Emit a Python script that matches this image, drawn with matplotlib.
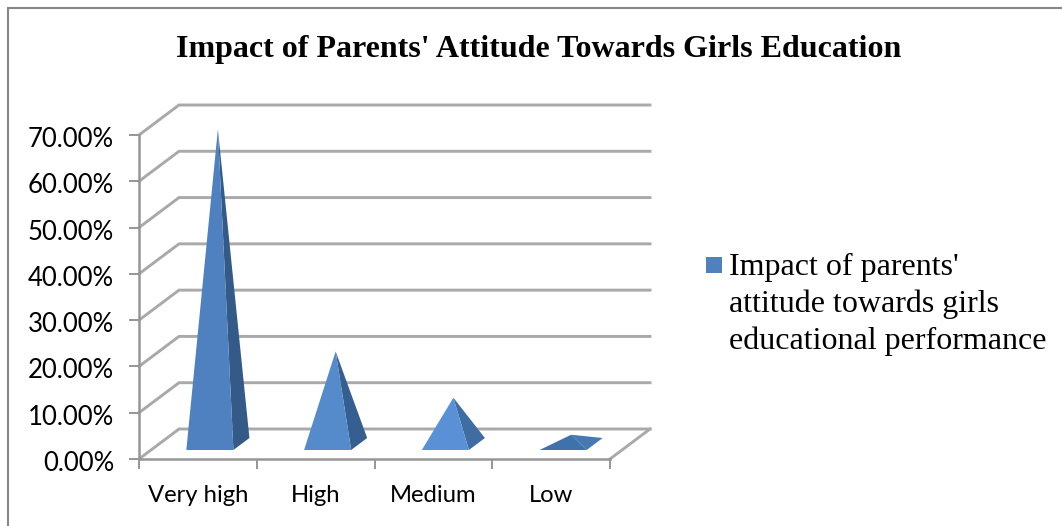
import matplotlib
matplotlib.use("Agg")
import matplotlib.pyplot as plt
from matplotlib.lines import Line2D
from matplotlib.patches import Polygon, Rectangle
from matplotlib.transforms import ScaledTranslation

categories = ["Very high", "High", "Medium", "Low"]
values = [68, 20, 10, 2]
y_ticks = [0, 10, 20, 30, 40, 50, 60, 70]
title = "Impact of Parents' Attitude Towards Girls Education"
legend_lines = ["Impact of parents'", "attitude towards girls", "educational performance"]

front_colors = ["#4F81C0", "#568BCB", "#5A90D6", "#3F72AB"]
side_colors = ["#345A88", "#365F91", "#3F6CA3", "#4678B2"]
grid_color = "#A9A9A9"
axis_color = "#969696"

W, H = 1062, 526
fig = plt.figure(figsize=(W / 100, H / 100), dpi=100)

# front plane of the fake 3D box, everything else is sheared off it
ax = fig.add_axes([139 / W, (H - 459) / H, 471 / W, 324 / H])
ax.set_xlim(0, 4)
ax.set_ylim(0, 70)
ax.patch.set_visible(False)

depth_x = 40 / (471 / 4)
depth_y = 30 / (324 / 70)


def shear(x, y, depth):
    return x + depth_x * depth, y + depth_y * depth


# walls and floor
for v in y_ticks:
    bx, by = shear(0, v, 1)
    ex, ey = shear(4, v, 1)
    ax.add_line(Line2D([0, bx, ex], [v, by, ey], color=grid_color, lw=2.1,
                       clip_on=False, zorder=1, solid_joinstyle="miter"))
bx, by = shear(4, 0, 1)
ax.add_line(Line2D([4, bx], [0, by], color=grid_color, lw=2.1, clip_on=False, zorder=1))

# pyramids, only the front and right faces can be seen
half = 0.2
for i, v in enumerate(values):
    cx = i + 0.5
    fl = shear(cx - half, 0, 0.3)
    fr = shear(cx + half, 0, 0.3)
    br = shear(cx + half, 0, 0.7)
    apex = shear(cx, v, 0.5)
    ax.add_patch(Polygon([fr, br, apex], closed=True, fc=side_colors[i], ec="none",
                         zorder=3, clip_on=False))
    ax.add_patch(Polygon([fl, fr, apex], closed=True, fc=front_colors[i], ec="none",
                         zorder=4, clip_on=False))

for side in ["top", "right"]:
    ax.spines[side].set_visible(False)
for side in ["left", "bottom"]:
    ax.spines[side].set_color(axis_color)
    ax.spines[side].set_linewidth(1.8)
    ax.spines[side].set_zorder(5)

ax.set_yticks(y_ticks)
ax.set_yticklabels([f"{v:.2f}%" for v in y_ticks], family="Lato", fontsize=18.5)
ax.tick_params(axis="y", length=7, width=1.4, color=axis_color, pad=11)
# nudge the percent labels down a little
nudge = ScaledTranslation(0, -2 / 100, fig.dpi_scale_trans)
for lab in ax.get_yticklabels():
    lab.set_transform(lab.get_transform() + nudge)

ax.set_xticks(range(5))
ax.set_xticklabels([])
ax.tick_params(axis="x", which="major", length=7, width=1.4, color=axis_color)
ax.set_xticks([i + 0.5 for i in range(4)], minor=True)
ax.set_xticklabels(categories, minor=True, family="Lato", fontsize=17.2)
ax.tick_params(axis="x", which="minor", length=0, pad=18.5)

fig.text(539 / W, 1 - 57 / H, title, family="Liberation Serif", fontweight="bold",
         fontsize=23, ha="center", va="baseline")

# legend
fig.add_artist(Rectangle((706 / W, 1 - 273 / H), 16 / W, 16 / H, transform=fig.transFigure,
                         fc="#4F81BD", ec="none"))
for line, base in zip(legend_lines, [275, 312, 349]):
    fig.text(729 / W, 1 - base / H, line, family="Liberation Serif", fontsize=23,
             ha="left", va="baseline")

# chart border, top and left only
fig.add_artist(Line2D([8 / W, 8 / W, 1], [0, 1 - 7.5 / H, 1 - 7.5 / H],
                      color="#868686", lw=1.5, transform=fig.transFigure,
                      solid_joinstyle="miter"))

fig.savefig("out.png", dpi=100)
